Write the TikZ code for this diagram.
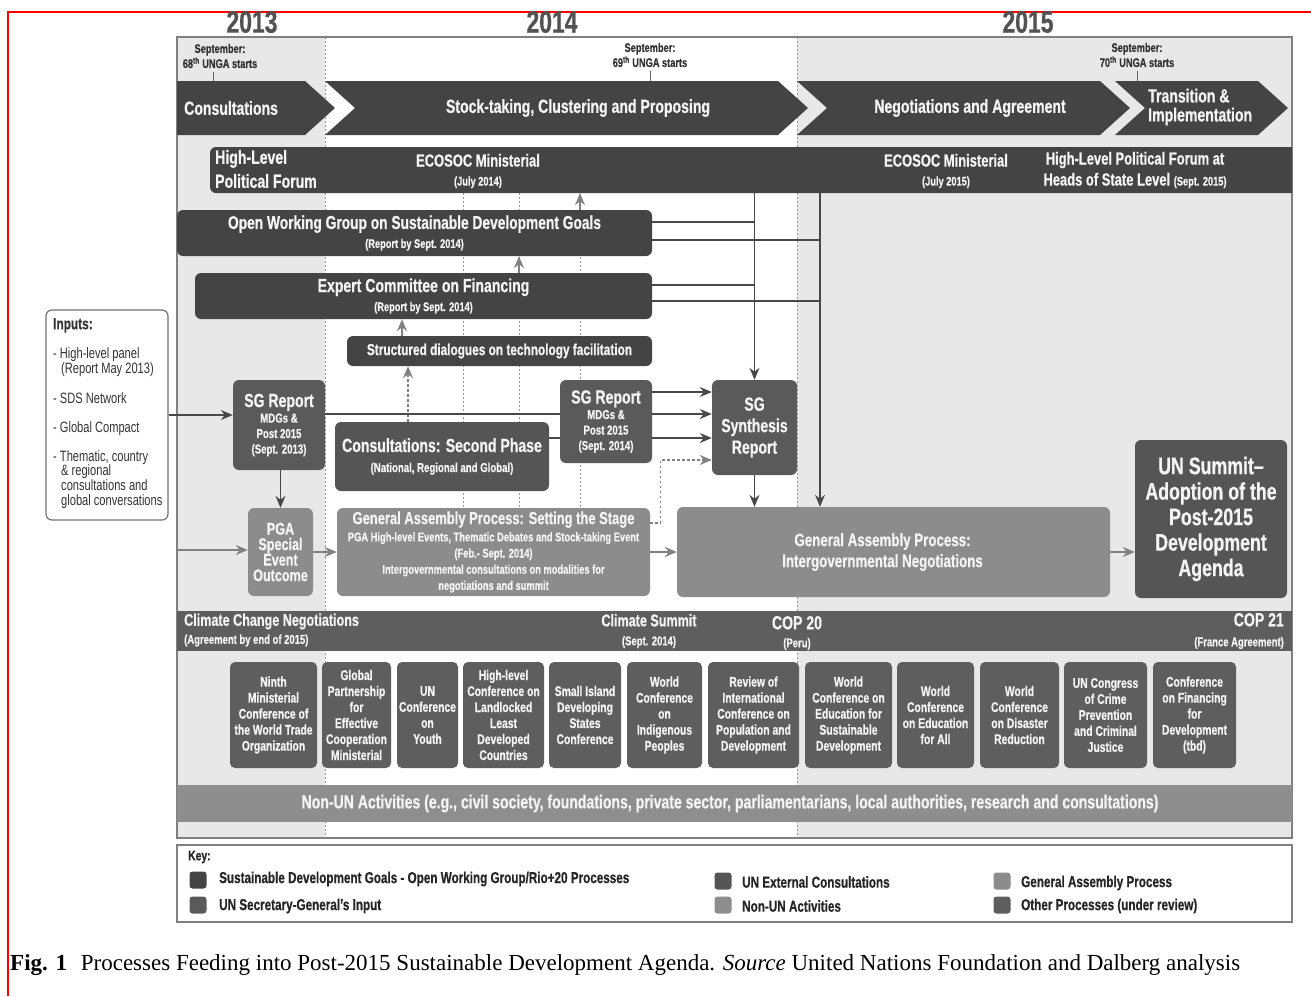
\documentclass[tikz,border=0pt]{standalone}
\usepackage{fontspec}
\setmainfont{Liberation Serif}
\newfontfamily\cf{Liberation Sans}[FakeStretch=0.74, BoldFont={Liberation Sans Bold}, BoldFeatures={FakeBold=0.6}]
\usetikzlibrary{arrows.meta}
\newcommand\fsz[1]{\fontsize{#1}{#1}\selectfont}
\newcommand\fsb[2]{\fontsize{#1}{#2}\selectfont}
\definecolor{cDark}{HTML}{444444}
\definecolor{cSG}{HTML}{5A5A5A}
\definecolor{cExt}{HTML}{555555}
\definecolor{cOther}{HTML}{5E5E5E}
\definecolor{cGA}{HTML}{8C8C8C}
\definecolor{cNon}{HTML}{8E8E8E}
\definecolor{cBg}{HTML}{E8E8E8}
\definecolor{cLine}{HTML}{484848}
\definecolor{cTxt}{HTML}{F4F4F4}
\pgfdeclarelayer{back}\pgfdeclarelayer{conn}\pgfsetlayers{back,conn,main}
\begin{document}
\begin{tikzpicture}[x=1pt,y=-1pt,
  box/.style={rounded corners=6pt, inner sep=0pt, align=center, text=cTxt, font=\cf\bfseries},
  cbox/.style={box, fill=cOther, minimum height=106pt, rounded corners=5pt, font=\cf\bfseries\fsb{14}{16}},
  lbl/.style={inner sep=0pt, text=cTxt, font=\cf\bfseries},
  year/.style={inner sep=0pt, text=black!68, font=\cf\bfseries\fsz{31}},
  sept/.style={inner sep=0pt, align=center, text=black!80, font=\cf\bfseries\fsb{12.5}{15}},
  tline/.style={draw=black!40, line width=1pt, dash pattern=on 2pt off 2pt},
  ln/.style={draw=cLine, line width=1.6pt},
  arr/.style={ln, -{Stealth[length=12pt,width=10pt,inset=4pt]}},
  garr/.style={draw=black!50, line width=1.6pt, -{Stealth[length=12pt,width=10pt,inset=4pt]}},
  gdarr/.style={garr, dash pattern=on 2.5pt off 2.5pt, line width=1.4pt},
  sw/.style={minimum size=17pt, inner sep=0pt, rounded corners=3pt},
  kt/.style={anchor=west, inner sep=0pt, text=black!85, font=\cf\bfseries\fsz{15.8}},
]
\useasboundingbox (0,0) rectangle (1311,996);
% backgrounds
\begin{pgfonlayer}{back}
\fill[cBg] (177,37) rectangle (325,838);
\fill[cBg] (797,37) rectangle (1292,838);
\draw[tline] (325,37) -- (325,838);
\draw[tline] (797,37) -- (797,838);
\foreach \x in {463,519,580} \draw[tline] (\x,193) -- (\x,508);
\draw[draw=black!50, line width=1.5pt] (177,37) rectangle (1292,838);
\end{pgfonlayer}
% red page marks
\draw[red, line width=2pt] (7,12) -- (1311,12);
\draw[red, line width=2pt] (8,12) -- (8,996);
% years
\node[year] (y13) at (252,22) {2013};
\node[year] (y14) at (552,22) {2014};
\node[year] (y15) at (1028,22) {2015};
% september labels
\node[sept] (s68) at (220,56) {September:\\68\textsuperscript{th} UNGA starts};
\node[sept] (s69) at (650,55) {September:\\69\textsuperscript{th} UNGA starts};
\node[sept] (s70) at (1137,55) {September:\\70\textsuperscript{th} UNGA starts};
\draw[black!60, line width=1pt] (213,72) -- (213,81);
\draw[black!60, line width=1pt] (650,71) -- (650,81);
\draw[black!60, line width=1pt] (1137,71) -- (1137,81);
% chevrons
\fill[cDark] (177,81) -- (305,81) -- (335,108) -- (305,135) -- (177,135) -- cycle;
\fill[cDark] (325,81) -- (778,81) -- (808,108) -- (778,135) -- (325,135) -- (355,108) -- cycle;
\fill[cDark] (797,81) -- (1100,81) -- (1130,108) -- (1100,135) -- (797,135) -- (827,108) -- cycle;
\fill[cDark] (1115,81) -- (1258,81) -- (1288,108) -- (1258,135) -- (1115,135) -- (1145,108) -- cycle;
\node[lbl, anchor=west, font=\cf\bfseries\fsz{19}] (tc1) at (184,108) {Consultations};
\node[lbl, font=\cf\bfseries\fsz{19}] (tc2) at (578,108) {Stock-taking, Clustering and Proposing};
\node[lbl, font=\cf\bfseries\fsz{19}] (tc3) at (970,108) {Negotiations and Agreement};
\node[lbl, anchor=west, align=left, font=\cf\bfseries\fsb{19}{19}] (tc4) at (1148,107) {Transition \&\\Implementation};
% HLPF bar
\fill[cDark] (1292,147) [rounded corners=6pt] -- (210,147) -- (210,193) [sharp corners] -- (1292,193) -- cycle;
\node[inner sep=0pt, minimum width=1082pt, minimum height=46pt] (hlpf) at (751,170) {};
\node[lbl, anchor=west, align=left, font=\cf\bfseries\fsb{19}{24}] (hl1) at (215,169) {High-Level\\Political Forum};
\node[lbl, align=center, font=\cf\bfseries\fsb{17.5}{19}] (hl2) at (478,171) {ECOSOC Ministerial\\{\fsz{12.5}(July 2014)}};
\node[lbl, align=center, font=\cf\bfseries\fsb{17.5}{19}] (hl3) at (946,171) {ECOSOC Ministerial\\{\fsz{12.5}(July 2015)}};
\node[lbl, align=center, font=\cf\bfseries\fsb{17.5}{21}] (hl4) at (1135,170) {High-Level Political Forum at\\Heads of State Level {\fsz{12.5}(Sept. 2015)}};
% SDG boxes
\node[box, fill=cDark, minimum width=475pt, minimum height=46pt, font=\cf\bfseries\fsb{18.6}{19}] (owg) at (414.5,233) {Open Working Group on Sustainable Development Goals\\{\fsz{12.5}(Report by Sept. 2014)}};
\node[box, fill=cDark, minimum width=457pt, minimum height=46pt, font=\cf\bfseries\fsb{19}{19}] (exp) at (423.5,296) {Expert Committee on Financing\\{\fsz{12.5}(Report by Sept. 2014)}};
\node[box, fill=cDark, minimum width=305pt, minimum height=30pt, font=\cf\bfseries\fsz{16}] (sdt) at (499.5,351) {Structured dialogues on technology facilitation};
% SG and consultations
\node[box, fill=cSG, minimum width=92pt, minimum height=90pt, font=\cf\bfseries\fsb{13}{15.5}] (sg13) at (279,425) {{\fsz{19}SG Report}\\MDGs \&\\Post 2015\\(Sept. 2013)};
\node[box, fill=cExt, minimum width=214pt, minimum height=69pt, font=\cf\bfseries\fsb{13}{20}] (cons2) at (442,456.5) {{\fsz{19}Consultations: Second Phase}\\(National, Regional and Global)};
\node[box, fill=cSG, minimum width=92pt, minimum height=83pt, font=\cf\bfseries\fsb{13}{15.5}] (sg14) at (606,421.5) {{\fsz{19}SG Report}\\MDGs \&\\Post 2015\\(Sept. 2014)};
\node[box, fill=cSG, minimum width=85pt, minimum height=95pt, font=\cf\bfseries\fsb{19}{21.5}] (synth) at (754.5,427.5) {SG\\Synthesis\\Report};
% GA boxes
\node[box, fill=cGA, minimum width=65pt, minimum height=88pt, font=\cf\bfseries\fsb{17}{15.5}] (pga) at (280.5,552) {PGA\\Special\\Event\\Outcome};
\node[box, fill=cGA, minimum width=313pt, minimum height=88pt, font=\cf\bfseries\fsb{12.6}{16.2}] (gast) at (493.5,552) {{\fsz{17.5}General Assembly Process: Setting the Stage}\\[1pt]PGA High-level Events, Thematic Debates and Stock-taking Event\\(Feb.- Sept. 2014)\\Intergovernmental consultations on modalities for\\negotiations and summit};
\node[box, fill=cGA, minimum width=433pt, minimum height=90pt, font=\cf\bfseries\fsb{18}{21}] (ganeg) at (893.5,552) {General Assembly Process:\hspace*{22pt}\\Intergovernmental Negotiations\hspace*{22pt}};
\node[box, fill=cExt, minimum width=152pt, minimum height=158pt, font=\cf\bfseries\fsb{24}{25.5}] (summit) at (1211,519) {UN Summit–\\Adoption of the\\Post-2015\\Development\\Agenda};
% inputs
\node[draw=black!55, line width=1.2pt, rounded corners=6pt, fill=white, minimum width=122pt, minimum height=210pt, inner sep=0pt] (inputs) at (107,415) {};
\node[anchor=north west, inner sep=0pt, align=left, text=black!80, font=\cf\fsb{15}{14.7}] (inputst) at (53,318) {{\bfseries\fsz{16}Inputs:}\\[15pt]- High-level panel\\\hspace*{8pt}(Report May 2013)\\[14.7pt]- SDS Network\\[14.7pt]- Global Compact\\[14pt]- Thematic, country\\\hspace*{8pt}\& regional\\\hspace*{8pt}consultations and\\\hspace*{8pt}global conversations};
% climate band
\node[fill=cOther, minimum width=1115pt, minimum height=40pt, inner sep=0pt] (climate) at (734.5,631) {};
\node[lbl, anchor=west, align=left, font=\cf\bfseries\fsb{17}{18}] (cl1) at (184,630) {Climate Change Negotiations\\{\fsz{12.8}(Agreement by end of 2015)}};
\node[lbl, align=center, font=\cf\bfseries\fsb{17}{19}] (cl2) at (649,631) {Climate Summit\\{\fsz{12.8}(Sept. 2014)}};
\node[lbl, align=center, font=\cf\bfseries\fsb{19}{18}] (cl3) at (797,633) {COP 20\\{\fsz{12.8}(Peru)}};
\node[lbl, anchor=east, align=right, font=\cf\bfseries\fsb{19}{20}] (cl4) at (1284,631) {COP 21\\{\fsz{12.8}(France Agreement)}};
% other processes
\node[cbox, minimum width=87pt] (c1) at (273.5,715) {Ninth\\Ministerial\\Conference of\\the World Trade\\Organization};
\node[cbox, minimum width=69pt] (c2) at (356.5,715) {Global\\Partnership\\for\\Effective\\Cooperation\\Ministerial};
\node[cbox, minimum width=61pt] (c3) at (427.5,715) {UN\\Conference\\on\\Youth};
\node[cbox, minimum width=81pt] (c4) at (503.5,715) {High-level\\Conference on\\Landlocked\\Least\\Developed\\Countries};
\node[cbox, minimum width=72pt] (c5) at (585,715) {Small Island\\Developing\\States\\Conference};
\node[cbox, minimum width=75pt] (c6) at (664.5,715) {World\\Conference\\on\\Indigenous\\Peoples};
\node[cbox, minimum width=91pt] (c7) at (753.5,715) {Review of\\International\\Conference on\\Population and\\Development};
\node[cbox, minimum width=87pt] (c8) at (848.5,715) {World\\Conference on\\Education for\\Sustainable\\Development};
\node[cbox, minimum width=77pt] (c9) at (935.5,715) {World\\Conference\\on Education\\for All};
\node[cbox, minimum width=79pt] (c10) at (1019.5,715) {World\\Conference\\on Disaster\\Reduction};
\node[cbox, minimum width=83pt] (c11) at (1105.5,715) {UN Congress\\of Crime\\Prevention\\and Criminal\\Justice};
\node[cbox, minimum width=83pt] (c12) at (1194.5,715) {Conference\\on Financing\\for\\Development\\(tbd)};
% non-UN band
\node[fill=cNon, minimum width=1115pt, minimum height=37pt, inner sep=0pt, text=cTxt, font=\cf\bfseries\fsz{19}] (nonun) at (734.5,803.5) {Non-UN Activities (e.g., civil society, foundations, private sector, parliamentarians, local authorities, research and consultations)\hspace*{9pt}};
% key
\node[draw=black!50, line width=1.2pt, minimum width=1115pt, minimum height=77pt, inner sep=0pt, fill=white] (key) at (734.5,883.5) {};
\node[anchor=west, inner sep=0pt, text=black!85, font=\cf\bfseries\fsz{14}] (keyt) at (188,857) {Key:};
\node[sw, fill=cDark] (k1) at (198,880) {};
\node[sw, fill=cSG] (k2) at (198,905) {};
\node[sw, fill=cExt] (k3) at (723,881) {};
\node[sw, fill=cNon] (k4) at (723,905) {};
\node[sw, fill=cGA] (k5) at (1002,881) {};
\node[sw, fill=cOther] (k6) at (1002,905) {};
\node[kt] (k1t) at (219,879) {Sustainable Development Goals - Open Working Group/Rio+20 Processes};
\node[kt] (k2t) at (219,906) {UN Secretary-General’s Input};
\node[kt] (k3t) at (742,882) {UN External Consultations};
\node[kt] (k4t) at (742,906) {Non-UN Activities};
\node[kt] (k5t) at (1021,883) {General Assembly Process};
\node[kt] (k6t) at (1021,906) {Other Processes (under review)};
% caption
\node[anchor=west, inner sep=0pt, font=\fsz{23}] (cap) at (10,965) {\textbf{Fig. 1}\hspace{0.6em}Processes Feeding into Post-2015 Sustainable Development Agenda. \textit{Source} United Nations Foundation and Dalberg analysis};
% connectors
\begin{pgfonlayer}{conn}
\coordinate (k580) at (580,0);
\coordinate (k519) at (519,0);
\coordinate (k402) at (402,0);
\coordinate (k408) at (408,0);
\coordinate (v2) at (820,0);
\coordinate (k460) at (0,460);
\coordinate (gin) at (177,550);
\draw[garr] (k580 |- owg.north) -- (k580 |- hlpf.south);
\draw[garr] (k519 |- exp.north) -- (k519 |- owg.south);
\draw[garr] (k402 |- sdt.north) -- (k402 |- exp.south);
\draw[gdarr] (k408 |- cons2.north) -- (k408 |- sdt.south);
\draw[arr] (synth.north |- hlpf.south) -- (synth.north);
\draw[arr] (v2 |- hlpf.south) -- (v2 |- ganeg.north);
\path ([yshift=11pt]owg.east) coordinate (o1) ([yshift=-7pt]owg.east) coordinate (o2)
      ([yshift=11pt]exp.east) coordinate (e1) ([yshift=-5pt]exp.east) coordinate (e2);
\draw[ln] (o1) -- (o1 -| synth.north);
\draw[ln] (o2) -- (o2 -| v2);
\draw[ln] (e1) -- (e1 -| synth.north);
\draw[ln] (e2) -- (e2 -| v2);
\path ([yshift=29.5pt]sg14.east) coordinate (s1) ([yshift=11pt]sg13.east) coordinate (s2)
      ([yshift=18.5pt]cons2.east) coordinate (s3) ([yshift=29pt]gast.east) coordinate (s4);
\draw[arr] (s1) -- (s1 -| synth.west);
\draw[arr] (s2) -- (s2 -| synth.west);
\draw[arr] (s3) -- (s3 -| synth.west);
\draw[gdarr] (s4) -- ++(10,0) |- (k460 -| synth.west);
\draw[arr] (inputs.east) -- (inputs.east -| sg13.west);
\draw[garr] (gin) -- (gin -| pga.west);
\draw[arr] (pga.north |- sg13.south) -- (pga.north);
\draw[garr] (pga.east) -- (gast.west);
\draw[garr] (gast.east) -- (ganeg.west);
\draw[garr] (ganeg.east) -- (ganeg.east -| summit.west);
\draw[arr] (synth.south) -- (synth.south |- ganeg.north);
\end{pgfonlayer}
\end{tikzpicture}
\end{document}
